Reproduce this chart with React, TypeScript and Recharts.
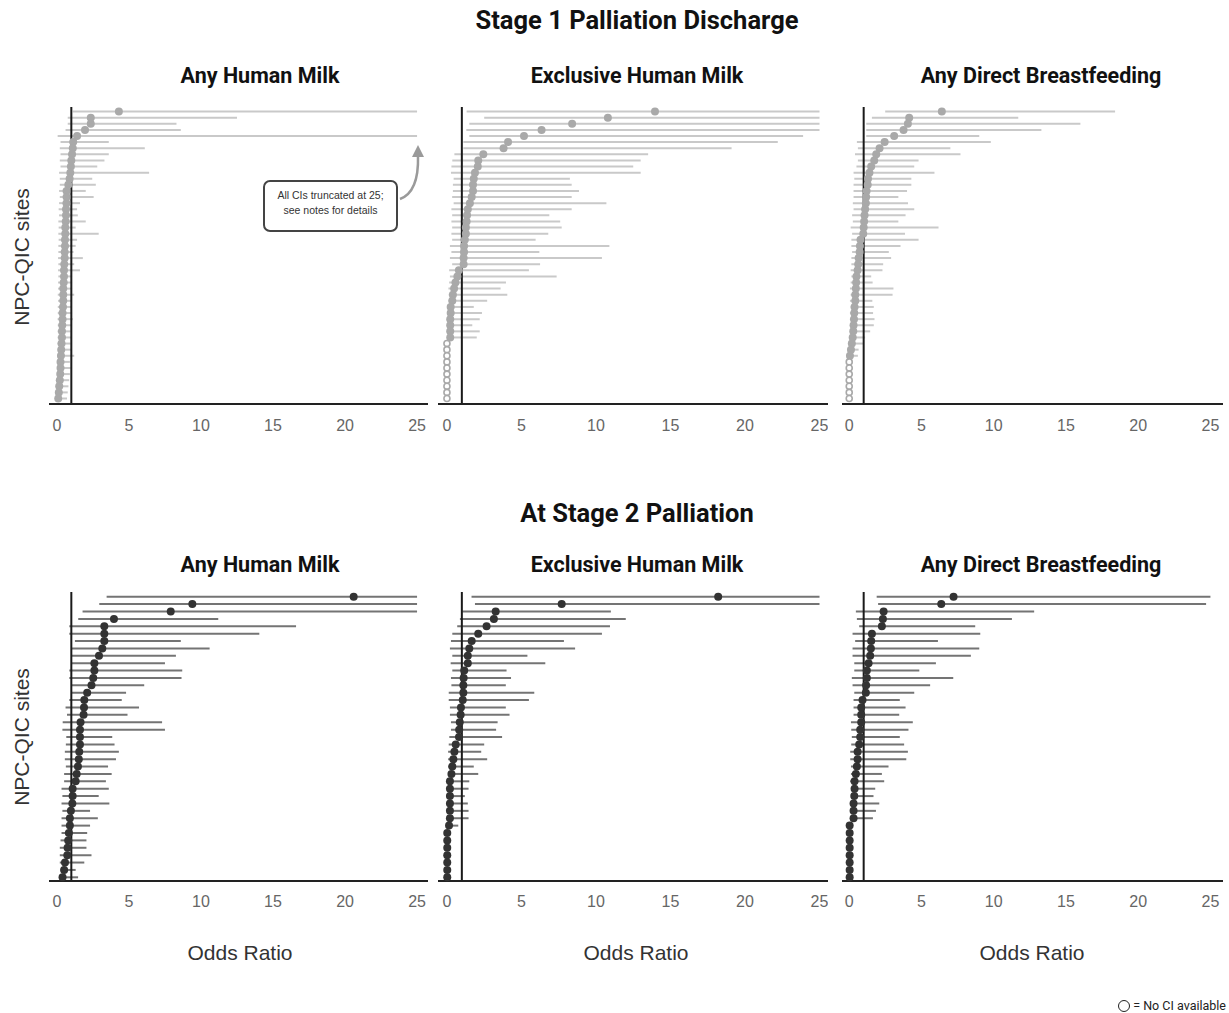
import React from "react";
import { ScatterChart, Scatter, XAxis, YAxis, ErrorBar, ReferenceLine } from "recharts";

const oddsTicks = [0, 5, 10, 15, 20, 25];
const stageTitles = ["Stage 1 Palliation Discharge", "At Stage 2 Palliation"];
const outcomeNames = ["Any Human Milk", "Exclusive Human Milk", "Any Direct Breastfeeding"];

// Stage 1 – any human milk (48 sites)
const s1AnyOr = [4.3, 2.35, 2.35, 1.95, 1.4, 1.13, 1.1, 1.05, 1.0, 0.97, 0.93, 0.88, 0.79, 0.67, 0.67, 0.66, 0.63, 0.63, 0.61, 0.58, 0.58, 0.56, 0.56, 0.54, 0.54, 0.51, 0.49, 0.49, 0.47, 0.44, 0.44, 0.44, 0.42, 0.39, 0.39, 0.37, 0.35, 0.35, 0.32, 0.3, 0.28, 0.25, 0.25, 0.23, 0.2, 0.16, 0.13, 0.09];
const s1AnyLo = [1.1, 0.75, 0.75, 0.6, 0.05, 0.25, 0.2, 0.25, 0.2, 0.25, 0.15, 0.2, 0.2, 0.15, 0.2, 0.15, 0.12, 0.15, 0.1, 0.12, 0.1, 0.12, 0.1, 0.1, 0.08, 0.1, 0.08, 0.1, 0.08, 0.08, 0.06, 0.08, 0.06, 0.06, 0.05, 0.06, 0.05, 0.05, 0.04, 0.05, 0.04, 0.04, 0.03, 0.03, 0.03, 0.02, 0.02, 0.02];
const s1AnyHi = [25, 12.5, 8.3, 8.6, 25, 3.6, 6.1, 3.6, 3.3, 2.8, 6.4, 2.45, 2.7, 2.0, 2.55, 1.6, 1.4, 1.45, 2.0, 1.3, 2.9, 1.4, 1.3, 1.15, 1.8, 1.2, 1.6, 1.05, 1.05, 1.05, 1.2, 1.0, 1.0, 1.05, 1.1, 1.0, 0.95, 1.0, 0.95, 1.0, 1.2, 0.9, 0.95, 0.9, 0.85, 0.8, 0.75, 0.7];

// Stage 1 – exclusive human milk
const s1ExclOr = [13.96, 10.8, 8.4, 6.35, 5.17, 4.1, 3.8, 2.44, 2.1, 2.07, 1.88, 1.8, 1.75, 1.75, 1.66, 1.54, 1.4, 1.35, 1.32, 1.27, 1.27, 1.2, 1.15, 1.15, 1.12, 1.12, 0.8, 0.7, 0.57, 0.48, 0.4, 0.36, 0.25, 0.25, 0.22, 0.22, 0.22, 0.22, 0, 0, 0, 0, 0, 0, 0, 0, 0, 0];
const s1ExclLo = [1.32, 2.5, 1.5, 1.3, 1.5, 1.1, 1.1, 0.5, 0.36, 0.3, 0.27, 0.45, 0.4, 0.4, 0.35, 0.45, 0.3, 0.35, 0.3, 0.35, 0.3, 0.35, 0.2, 0.3, 0.2, 0.35, 0.15, 0.2, 0.15, 0.1, 0.12, 0.1, 0.05, 0.08, 0.05, 0.05, 0.08, 0.05, null, null, null, null, null, null, null, null, null, null];
const s1ExclHi = [25, 25, 25, 25, 23.9, 22.2, 19.1, 13.5, 13.0, 12.5, 13.0, 8.25, 8.37, 8.86, 8.37, 10.7, 8.37, 6.87, 7.6, 7.7, 6.8, 5.95, 10.9, 6.2, 10.4, 6.25, 5.5, 7.36, 3.96, 3.6, 4.05, 2.7, 1.8, 2.35, 2.2, 1.7, 2.2, 2.0, null, null, null, null, null, null, null, null, null, null];

// Stage 1 – any direct breastfeeding
const s1DirectOr = [6.41, 4.15, 4.06, 3.76, 3.11, 2.45, 2.1, 1.87, 1.73, 1.52, 1.4, 1.3, 1.28, 1.2, 1.17, 1.15, 1.1, 1.06, 1.03, 1.0, 0.97, 0.78, 0.74, 0.72, 0.65, 0.62, 0.58, 0.5, 0.48, 0.46, 0.42, 0.42, 0.37, 0.35, 0.33, 0.3, 0.28, 0.24, 0.18, 0.12, 0.05, 0, 0, 0, 0, 0, 0, 0];
const s1DirectLo = [2.49, 1.57, 1.18, 1.18, 1.18, 0.53, 0.6, 0.4, 0.6, 0.5, 0.3, 0.35, 0.3, 0.3, 0.3, 0.25, 0.3, 0.2, 0.25, 0.1, 0.2, 0.15, 0.15, 0.2, 0.15, 0.15, 0.1, 0.15, 0.1, 0.05, 0.1, 0.05, 0.1, 0.05, 0.05, 0.05, 0.05, 0.05, 0.02, 0.02, 0.01, null, null, null, null, null, null, null];
const s1DirectHi = [18.4, 11.7, 16.0, 13.3, 9.0, 9.8, 7.0, 7.7, 4.8, 4.5, 5.9, 4.3, 4.3, 4.0, 3.4, 4.07, 4.5, 3.9, 3.4, 6.18, 3.86, 4.8, 3.55, 2.74, 2.9, 2.35, 2.3, 1.52, 1.62, 3.06, 3.0, 1.6, 1.7, 1.65, 1.75, 1.7, 1.45, 1.1, 1.0, 0.65, 0.6, null, null, null, null, null, null, null];

// Stage 2 – any human milk (39 sites)
const s2AnyOr = [20.6, 9.4, 7.9, 3.96, 3.29, 3.29, 3.29, 3.15, 2.92, 2.6, 2.6, 2.52, 2.4, 2.1, 1.9, 1.88, 1.85, 1.64, 1.6, 1.6, 1.6, 1.55, 1.52, 1.46, 1.37, 1.3, 1.09, 1.09, 1.07, 0.97, 0.9, 0.9, 0.83, 0.78, 0.74, 0.72, 0.56, 0.5, 0.39];
const s2AnyLo = [3.45, 2.94, 1.78, 1.48, 0.86, 0.86, 1.25, 1.0, 1.0, 1.0, 0.86, 0.86, 1.0, 1.0, 0.86, 0.6, 0.7, 0.4, 0.38, 0.65, 0.62, 0.55, 0.55, 0.62, 0.5, 0.5, 0.32, 0.38, 0.32, 0.38, 0.32, 0.32, 0.32, 0.25, 0.2, 0.2, 0.2, 0.25, 0.2];
const s2AnyHi = [25, 25, 25, 11.2, 16.6, 14.05, 8.6, 10.6, 8.26, 7.5, 8.7, 8.65, 6.06, 4.8, 4.5, 5.7, 4.9, 7.3, 7.5, 3.84, 4.0, 4.3, 4.1, 3.55, 3.8, 3.4, 3.6, 2.9, 3.64, 2.3, 2.84, 2.3, 2.1, 2.05, 2.05, 2.4, 1.9, 1.3, 1.47];

// Stage 2 – exclusive human milk
const s2ExclOr = [18.2, 7.7, 3.27, 3.15, 2.66, 2.1, 1.66, 1.5, 1.4, 1.4, 1.16, 1.12, 1.1, 1.1, 1.06, 0.94, 0.92, 0.86, 0.82, 0.81, 0.59, 0.5, 0.43, 0.36, 0.3, 0.2, 0.2, 0.2, 0.2, 0.2, 0.2, 0.14, 0.02, 0.02, 0.02, 0.02, 0.02, 0.02, 0.02];
const s2ExclLo = [1.65, 1.88, 1.03, 0.87, 0.69, 0.36, 0.27, 0.2, 0.36, 0.25, 0.36, 0.27, 0.3, 0.12, 0.12, 0.2, 0.2, 0.27, 0.27, 0.16, 0.12, 0.08, 0.08, 0.08, 0.08, 0.08, 0.08, 0.08, 0.08, 0.08, 0.08, 0.05, null, null, null, null, null, null, null];
const s2ExclHi = [25, 25, 11.0, 12.0, 10.94, 10.4, 7.85, 8.6, 5.4, 6.6, 4.0, 4.3, 3.95, 5.86, 5.5, 3.95, 4.2, 3.4, 3.3, 3.7, 2.5, 2.3, 2.7, 1.8, 2.1, 1.5, 1.45, 1.2, 1.4, 1.45, 1.45, 0.76, null, null, null, null, null, null, null];

// Stage 2 – any direct breastfeeding
const s2DirectOr = [7.22, 6.37, 2.38, 2.33, 2.26, 1.57, 1.52, 1.5, 1.45, 1.34, 1.22, 1.22, 1.17, 1.15, 0.92, 0.83, 0.83, 0.83, 0.76, 0.76, 0.69, 0.58, 0.58, 0.53, 0.46, 0.37, 0.37, 0.35, 0.3, 0.3, 0.3, 0.03, 0.03, 0.03, 0.03, 0.03, 0.03, 0.03, 0.03];
const s2DirectLo = [1.9, 2.0, 0.46, 0.53, 0.69, 0.23, 0.41, 0.23, 0.23, 0.35, 0.35, 0.18, 0.23, 0.35, 0.3, 0.3, 0.3, 0.12, 0.14, 0.18, 0.14, 0.07, 0.07, 0.12, 0.12, 0.07, 0.14, 0.14, 0.12, 0.12, 0.12, null, null, null, null, null, null, null, null];
const s2DirectHi = [25, 24.7, 12.8, 11.26, 8.72, 9.07, 6.14, 9.0, 8.42, 6.0, 4.85, 7.2, 5.6, 4.5, 3.5, 3.9, 3.46, 4.4, 4.1, 3.5, 3.8, 4.06, 3.95, 2.72, 2.26, 2.42, 1.8, 1.68, 2.08, 1.85, 1.64, null, null, null, null, null, null, null, null];

const stageSeries = [
  [
    [s1AnyOr, s1AnyLo, s1AnyHi],
    [s1ExclOr, s1ExclLo, s1ExclHi],
    [s1DirectOr, s1DirectLo, s1DirectHi],
  ],
  [
    [s2AnyOr, s2AnyLo, s2AnyHi],
    [s2ExclOr, s2ExclLo, s2ExclHi],
    [s2DirectOr, s2DirectLo, s2DirectHi],
  ],
];

// layout
const panelX = [
  { left: 49, width: 379, domain: [-0.55, 25.76], center: 240, title: 260 },
  { left: 438, width: 390, domain: [-0.6, 25.57], center: 636, title: 637 },
  { left: 842, width: 381, domain: [-0.5, 25.87], center: 1032, title: 1041 },
];
const stageY = [
  { top: 107, height: 297, domain: [0.25, 48.9], tickMargin: 10, titleY: 21, panelTitleY: 76, labelY: 257 },
  { top: 592, height: 289, domain: [0.36, 39.5], tickMargin: 9, titleY: 514, panelTitleY: 565, labelY: 737 },
];
const stageStyle = [
  { dot: "#a9a9a9", ci: "#c9c9c9", ciWidth: 2, r: 4, hollow: true },
  { dot: "#333333", ci: "#747474", ciWidth: 2, r: 4, hollow: false },
];

const sans = "Roboto, 'Liberation Sans', Arial, sans-serif";
const arial = "'Liberation Sans', Arial, sans-serif";

function Panel({ stage, idx }: { stage: number; idx: number }) {
  const [or, lo, hi] = stageSeries[stage][idx];
  const geo = panelX[idx];
  const sy = stageY[stage];
  const look = stageStyle[stage];
  const data = or.map((v: number, i: number) => ({
    row: i + 1,
    or: v,
    noCi: hi[i] == null,
    err: hi[i] == null ? null : [v - (lo[i] as number), (hi[i] as number) - v],
  }));

  const renderDot = (p: any) => {
    const { cx, cy, payload } = p;
    if (cx == null || cy == null) return <g />;
    if (payload.noCi && look.hollow) {
      return <circle cx={cx} cy={cy} r={3} fill="#fff" stroke={look.dot} strokeWidth={1.6} />;
    }
    return <circle cx={cx} cy={cy} r={look.r} fill={look.dot} />;
  };

  return (
    <div style={{ position: "absolute", left: geo.left, top: sy.top }}>
      <ScatterChart width={geo.width} height={sy.height + 40} margin={{ top: 0, right: 0, bottom: 0, left: 0 }}>
        <XAxis
          type="number"
          dataKey="or"
          domain={geo.domain}
          ticks={oddsTicks}
          interval={0}
          height={40}
          tickLine={false}
          tickMargin={sy.tickMargin}
          axisLine={{ stroke: "#222", strokeWidth: 2 }}
          tick={{ fill: "#666", fontSize: 16, fontFamily: arial }}
        />
        <YAxis type="number" dataKey="row" domain={sy.domain} reversed hide />
        <Scatter data={data} isAnimationActive={false} shape={renderDot}>
          <ErrorBar
            dataKey="err"
            direction="x"
            width={0}
            stroke={look.ci}
            strokeWidth={look.ciWidth}
            isAnimationActive={false}
          />
        </Scatter>
        <ReferenceLine x={1} stroke="#1a1a1a" strokeWidth={2} />
      </ScatterChart>
    </div>
  );
}

const abs = (x: number, y: number, extra: React.CSSProperties = {}): React.CSSProperties => ({
  position: "absolute",
  left: x,
  top: y,
  transform: "translate(-50%, -50%)",
  whiteSpace: "nowrap",
  lineHeight: 1,
  ...extra,
});

export default function App() {
  return (
    <div style={{ position: "absolute", left: 0, top: 0, width: 1229, height: 1013, background: "#fff", fontFamily: sans }}>
      {stageY.map((sy, s) => (
        <React.Fragment key={s}>
          <div style={abs(637, sy.titleY, { fontSize: 25.5, fontWeight: 700, color: "#111" })}>{stageTitles[s]}</div>
          {panelX.map((px, i) => (
            <div key={i} style={abs(px.title, sy.panelTitleY, { fontSize: 21.5, fontWeight: 700, color: "#111" })}>
              {outcomeNames[i]}
            </div>
          ))}
          <div style={abs(21, sy.labelY, { fontSize: 21, fontFamily: arial, color: "#333", transform: "translate(-50%, -50%) rotate(-90deg)" })}>
            NPC-QIC sites
          </div>
          {panelX.map((_, i) => (
            <Panel key={i} stage={s} idx={i} />
          ))}
        </React.Fragment>
      ))}

      {panelX.map((px, i) => (
        <div key={i} style={abs(px.center, 952, { fontSize: 21, fontFamily: arial, color: "#333" })}>
          Odds Ratio
        </div>
      ))}

      {/* truncation note */}
      <div
        style={{
          position: "absolute",
          left: 263,
          top: 180,
          width: 131,
          height: 42,
          border: "2px solid #444",
          borderRadius: 7,
          background: "#fff",
          fontFamily: arial,
          fontSize: 10.5,
          color: "#333",
          lineHeight: "15px",
          textAlign: "center",
          paddingTop: 6,
          boxSizing: "content-box",
        }}
      >
        All CIs truncated at 25;
        <br />
        see notes for details
      </div>
      <svg style={{ position: "absolute", left: 0, top: 0 }} width={1229} height={1013} pointerEvents="none">
        <path d="M 400 199 Q 419 192 418 156" fill="none" stroke="#9a9a9a" strokeWidth={2.5} />
        <polygon points="412,157 418,145 424,157" fill="#9a9a9a" />
      </svg>

      <div style={{ position: "absolute", right: 3, top: 998, fontSize: 12.5, color: "#222", display: "flex", alignItems: "center", gap: 3 }}>
        <span style={{ display: "inline-block", width: 10, height: 10, border: "1.5px solid #222", borderRadius: "50%" }} />
        <span>= No CI available</span>
      </div>
    </div>
  );
}
